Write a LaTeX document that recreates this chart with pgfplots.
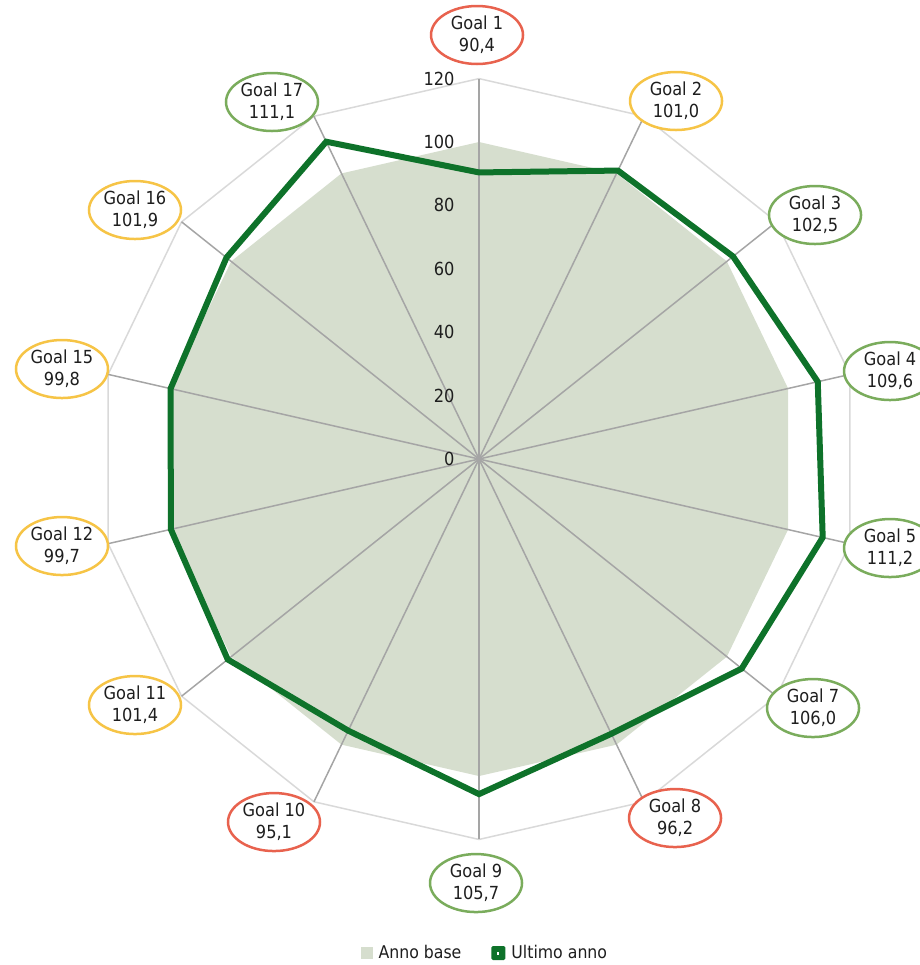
\documentclass[border=0pt]{standalone}
\usepackage{pgfplots}
\pgfplotsset{compat=1.18}
\usepackage{fontspec}
\setmainfont{DejaVu Sans Condensed}
\usetikzlibrary{shapes.geometric}
\definecolor{basefill}{RGB}{214,222,206}
\definecolor{ultimo}{RGB}{14,114,42}
\definecolor{spokec}{RGB}{165,165,165}
\definecolor{gridc}{RGB}{217,217,217}
\definecolor{cred}{RGB}{232,98,78}
\definecolor{cyel}{RGB}{246,196,70}
\definecolor{cgrn}{RGB}{122,172,92}
\definecolor{txt}{RGB}{30,30,30}
\begin{document}
\begin{tikzpicture}[
  lab/.style={ellipse, draw=#1, line width=2.5pt, fill=white, minimum width=92pt, minimum height=58pt, inner sep=0pt, align=center, font=\fontsize{18}{22}\selectfont, text=txt},
  tl/.style={anchor=east, font=\fontsize{18}{20}\selectfont, text=txt, xshift=-21pt}]
\begin{axis}[name=ax, x=3.17pt, y=3.17pt,
  xmin=-151.1, xmax=139.1, ymin=-159.6, ymax=144.8,
  hide axis, clip=false,
  legend columns=2,
  legend cell align=left,
  legend style={at={(0.527,0.0124)}, anchor=center, draw=none, fill=none,
    font=\fontsize{17.5}{19}\selectfont, text=txt,
    /tikz/every odd column/.append style={column sep=4pt},
    /tikz/every even column/.append style={column sep=28pt}}]
% outer gridline polygon (120)
\addplot[gridc, line width=1.5pt, data cs=polar, forget plot] coordinates {
 (90,120) (64.2857,120) (38.5714,120) (12.8571,120) (-12.8571,120) (-38.5714,120) (-64.2857,120)
 (-90,120) (-115.714,120) (-141.429,120) (-167.143,120) (167.143,120) (141.429,120) (115.714,120)} --cycle;
% Anno base
\addplot[fill=basefill, draw=none, data cs=polar,
  legend image code/.code={\path[draw=none, fill=basefill] (0pt,-6pt) rectangle (12pt,6pt);}] coordinates {
 (90,100) (64.2857,100) (38.5714,100) (12.8571,100) (-12.8571,100) (-38.5714,100) (-64.2857,100)
 (-90,100) (-115.714,100) (-141.429,100) (-167.143,100) (167.143,100) (141.429,100) (115.714,100)} --cycle;
\addlegendentry{Anno base}
% spokes
\addplot[spokec, line width=1.5pt, data cs=polar, forget plot] coordinates {(90,0) (90,120)};
\addplot[spokec, line width=1.5pt, data cs=polar, forget plot] coordinates {(64.2857,0) (64.2857,120)};
\addplot[spokec, line width=1.5pt, data cs=polar, forget plot] coordinates {(38.5714,0) (38.5714,120)};
\addplot[spokec, line width=1.5pt, data cs=polar, forget plot] coordinates {(12.8571,0) (12.8571,120)};
\addplot[spokec, line width=1.5pt, data cs=polar, forget plot] coordinates {(-12.8571,0) (-12.8571,120)};
\addplot[spokec, line width=1.5pt, data cs=polar, forget plot] coordinates {(-38.5714,0) (-38.5714,120)};
\addplot[spokec, line width=1.5pt, data cs=polar, forget plot] coordinates {(-64.2857,0) (-64.2857,120)};
\addplot[spokec, line width=1.5pt, data cs=polar, forget plot] coordinates {(-90,0) (-90,120)};
\addplot[spokec, line width=1.5pt, data cs=polar, forget plot] coordinates {(-115.714,0) (-115.714,120)};
\addplot[spokec, line width=1.5pt, data cs=polar, forget plot] coordinates {(-141.429,0) (-141.429,120)};
\addplot[spokec, line width=1.5pt, data cs=polar, forget plot] coordinates {(-167.143,0) (-167.143,120)};
\addplot[spokec, line width=1.5pt, data cs=polar, forget plot] coordinates {(167.143,0) (167.143,120)};
\addplot[spokec, line width=1.5pt, data cs=polar, forget plot] coordinates {(141.429,0) (141.429,120)};
\addplot[spokec, line width=1.5pt, data cs=polar, forget plot] coordinates {(115.714,0) (115.714,120)};
% Ultimo anno
\addplot[ultimo, line width=6pt, line join=miter, data cs=polar,
  legend image code/.code={\path[draw=none, fill=ultimo, rounded corners=1.5pt] (0pt,-7pt) rectangle (14pt,7pt);
     \path[draw=none, fill=white] (6pt,-1.5pt) rectangle (8pt,1.5pt);}] coordinates {
 (90,90.4) (64.2857,101.0) (38.5714,102.5) (12.8571,109.6) (-12.8571,111.2) (-38.5714,106.0) (-64.2857,96.2)
 (-90,105.7) (-115.714,95.1) (-141.429,101.4) (-167.143,99.7) (167.143,99.8) (141.429,101.9) (115.714,111.1)} --cycle;
\addlegendentry{Ultimo anno}
% radial tick labels
\node[tl] at (axis cs:0,0) {0};
\node[tl] at (axis cs:0,20) {20};
\node[tl] at (axis cs:0,40) {40};
\node[tl] at (axis cs:0,60) {60};
\node[tl] at (axis cs:0,80) {80};
\node[tl] at (axis cs:0,100) {100};
\node[tl] at (axis cs:0,120) {120};
% goal labels
\node[lab=cred] at ([shift={(-2pt,424pt)}]axis cs:0,0) {Goal 1\\90,4};
\node[lab=cyel] at ([shift={(197pt,358pt)}]axis cs:0,0) {Goal 2\\101,0};
\node[lab=cgrn] at ([shift={(336pt,244pt)}]axis cs:0,0) {Goal 3\\102,5};
\node[lab=cgrn] at ([shift={(411pt,88pt)}]axis cs:0,0) {Goal 4\\109,6};
\node[lab=cgrn] at ([shift={(411pt,-89pt)}]axis cs:0,0) {Goal 5\\111,2};
\node[lab=cgrn] at ([shift={(334pt,-249pt)}]axis cs:0,0) {Goal 7\\106,0};
\node[lab=cred] at ([shift={(196pt,-359pt)}]axis cs:0,0) {Goal 8\\96,2};
\node[lab=cgrn] at ([shift={(-3pt,-424pt)}]axis cs:0,0) {Goal 9\\105,7};
\node[lab=cred] at ([shift={(-205pt,-363pt)}]axis cs:0,0) {Goal 10\\95,1};
\node[lab=cyel] at ([shift={(-344pt,-246pt)}]axis cs:0,0) {Goal 11\\101,4};
\node[lab=cyel] at ([shift={(-417pt,-87pt)}]axis cs:0,0) {Goal 12\\99,7};
\node[lab=cyel] at ([shift={(-417pt,90pt)}]axis cs:0,0) {Goal 15\\99,8};
\node[lab=cyel] at ([shift={(-344pt,249pt)}]axis cs:0,0) {Goal 16\\101,9};
\node[lab=cgrn] at ([shift={(-207pt,357pt)}]axis cs:0,0) {Goal 17\\111,1};
\end{axis}
\pgfresetboundingbox
\useasboundingbox (ax.south west) rectangle (ax.north east);
\end{tikzpicture}
\end{document}
